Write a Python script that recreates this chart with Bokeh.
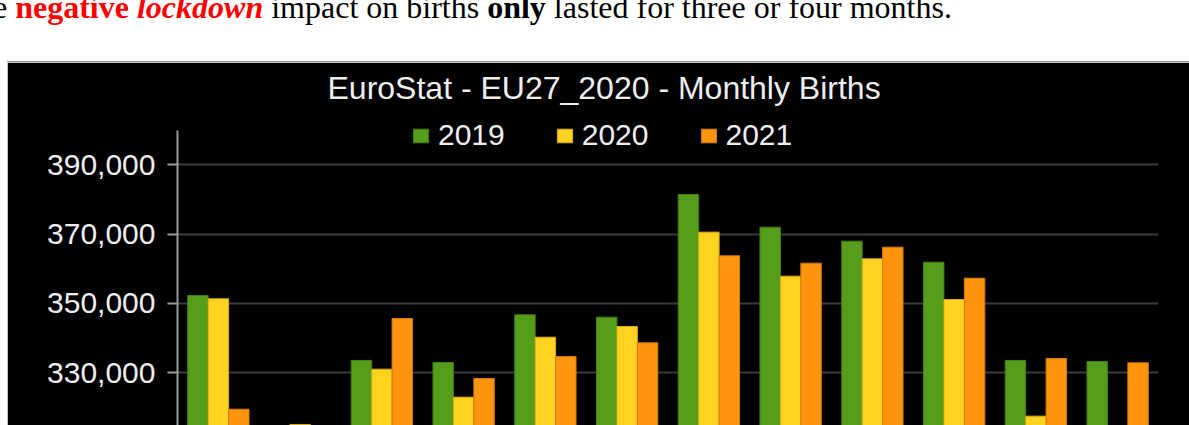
from bokeh.plotting import figure
from bokeh.models import (FactorRange, Range1d, FixedTicker, NumeralTickFormatter,
                          Legend, LegendItem, Div, ColumnDataSource)
from bokeh.transform import dodge
from bokeh.layouts import column
from bokeh.embed import file_html
from bokeh.resources import INLINE

# ---------------- data ----------------
months = ["Jan", "Feb", "Mar", "Apr", "May", "Jun",
          "Jul", "Aug", "Sep", "Oct", "Nov", "Dec"]
births_2019 = [352300, 312000, 333550, 332970, 346730, 346040,
               381430, 372000, 367970, 361910, 333550, 333260]
births_2020 = [351350, 315100, 331050, 322970, 340270, 343360,
               370570, 357870, 362880, 351150, 317500, 310000]
births_2021 = [319500, 306000, 345670, 328360, 334700, 338650,
               363740, 361620, 366230, 357290, 334130, 332880]
series_names = ["2019", "2020", "2021"]
y_ticks = [310000, 330000, 350000, 370000, 390000]
chart_title = "EuroStat - EU27_2020 - Monthly Births"

colors = ["#579D1C", "#FFD320", "#FF950E"]
edge_colors = ["#42800f", "#d9ac12", "#d67a06"]

source = ColumnDataSource(dict(month=months, y2019=births_2019,
                               y2020=births_2020, y2021=births_2021))

# ---------------- header text (HTML) ----------------
header_html = (
    '<div style="position:relative;width:1189px;height:62px;">'
    '<div style="position:absolute;left:-7px;top:-9px;white-space:nowrap;'
    "font-family:'Liberation Serif';font-size:32px;line-height:32px;color:#000;\">"
    'e <b style="color:#f00">negative</b> <b><i style="color:#f00">lockdown</i></b> '
    'impact on births <b>only</b> lasted for three or four months.</div>'
    '<div style="position:absolute;left:7px;top:61px;width:1182px;height:1px;background:#9a9a9a;"></div>'
    '</div>'
)
header = Div(text=header_html, width=1189, height=62, margin=0,
             styles={"overflow": "visible"})

# ---------------- chart ----------------
p = figure(width=1182, height=363, output_backend="svg", toolbar_location=None,
           x_range=FactorRange(*months), y_range=Range1d(314800, 406530),
           min_border_left=170, min_border_right=31, min_border_top=45,
           min_border_bottom=0)
p.margin = (0, 0, 0, 7)
p.background_fill_color = "#000000"
p.border_fill_color = "#000000"
p.outline_line_color = "#000000"
p.outline_line_alpha = 1.0
p.outline_line_width = 2

keys = ["y2019", "y2020", "y2021"]
offsets = [-0.25, 0.0, 0.25]
renderers = []
for k, off, c, ec in zip(keys, offsets, colors, edge_colors):
    r = p.vbar(x=dodge("month", off, range=p.x_range), top=k, bottom=0,
               width=0.25, source=source, fill_color=c, line_color=ec,
               line_width=1)
    renderers.append(r)

p.xaxis.visible = False
p.xgrid.grid_line_color = None
p.ygrid.grid_line_color = "#3c3c3c"
p.ygrid.grid_line_width = 2
p.ygrid.ticker = FixedTicker(ticks=y_ticks)

ya = p.yaxis[0]
ya.bounds = (314800, 400000)
ya.ticker = FixedTicker(ticks=y_ticks)
ya.formatter = NumeralTickFormatter(format="0,0")
ya.axis_line_color = "#9a9a9a"
ya.axis_line_width = 2
ya.major_tick_line_color = "#9a9a9a"
ya.major_tick_line_width = 2
ya.major_tick_out = 10
ya.major_tick_in = 0
ya.minor_tick_line_color = None
ya.major_label_text_font = "Liberation Sans"
ya.major_label_text_font_size = "30px"
ya.major_label_text_color = "#eeeeee"
ya.major_label_standoff = 12

p.title.text = chart_title
p.title.align = "left"
p.title.offset = 150
p.title.standoff = 4
p.title.text_font = "Liberation Sans"
p.title.text_font_size = "32px"
p.title.text_font_style = "normal"
p.title.text_color = "#eeeeee"

legend = Legend(items=[LegendItem(label=n, renderers=[r])
                       for n, r in zip(series_names, renderers)],
                orientation="horizontal", location=(234, 273),
                glyph_width=19, glyph_height=17, label_standoff=8, spacing=50,
                padding=0, margin=0, background_fill_alpha=0,
                border_line_alpha=0, label_text_font="Liberation Sans",
                label_text_font_size="30px", label_text_color="#eeeeee")
p.add_layout(legend)

layout = column(header, p, spacing=0)
open("out.html", "w").write(file_html(layout, INLINE))
